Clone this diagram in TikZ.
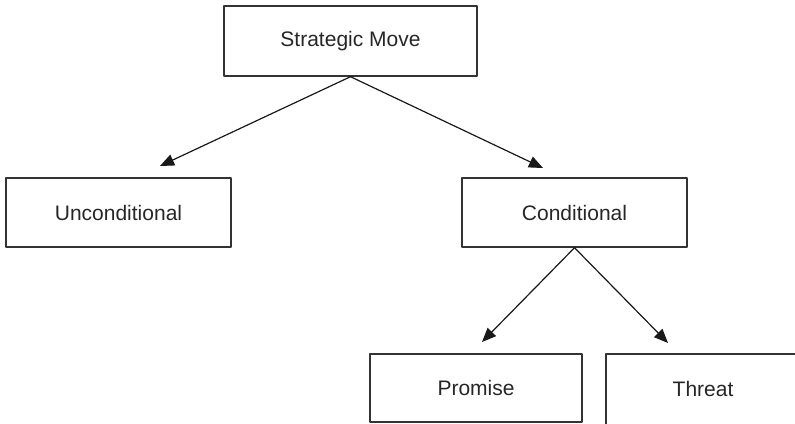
\documentclass[tikz,border=0pt]{standalone}
\usepackage{fontspec}
\setmainfont{Liberation Sans}
\usetikzlibrary{arrows}

\begin{document}
\begin{tikzpicture}[line cap=round,line join=round,>=triangle 45,x=0.5pt,y=-0.5pt,
	laatikko/.style={draw=black!80,line width=0.7pt,rectangle,inner sep=0pt,
		font=\fontsize{10.5}{12}\selectfont,text=black!85},
	nuoli/.style={->,color=black!90,line width=0.6pt}]

		%kuvan rajat
		\useasboundingbox (0,0) rectangle (795,423);
		\clip (0,0) rectangle (795,423);

		%laatikot
		\node[laatikko,minimum width=126.5pt,minimum height=35pt] (move) at (350.5,41) {Strategic Move};
		\node[laatikko,minimum width=112.5pt,minimum height=34.5pt] (uncond) at (118.5,212.5) {Unconditional};
		\node[laatikko,minimum width=112.5pt,minimum height=34.5pt] (cond) at (574.5,212.5) {Conditional};
		\node[laatikko,minimum width=106pt,minimum height=34pt] (promise) at (476,388) {Promise};
		\node[laatikko,minimum width=97pt,minimum height=36pt] (threat) at (703,390) {\raisebox{1pt}{Threat}};

		%nuolten kärjet
		\coordinate (uncondTip) at (160,166);
		\coordinate (condTip) at (543,168);
		\coordinate (promiseTip) at (482,342);
		\coordinate (threatTip) at (668,343);

		%nuolet
		\draw[nuoli] (move.south) -- (uncondTip);
		\draw[nuoli] (move.south) -- (condTip);
		\draw[nuoli] (cond.south) -- (promiseTip);
		\draw[nuoli] (cond.south) -- (threatTip);

	\end{tikzpicture}
\end{document}
